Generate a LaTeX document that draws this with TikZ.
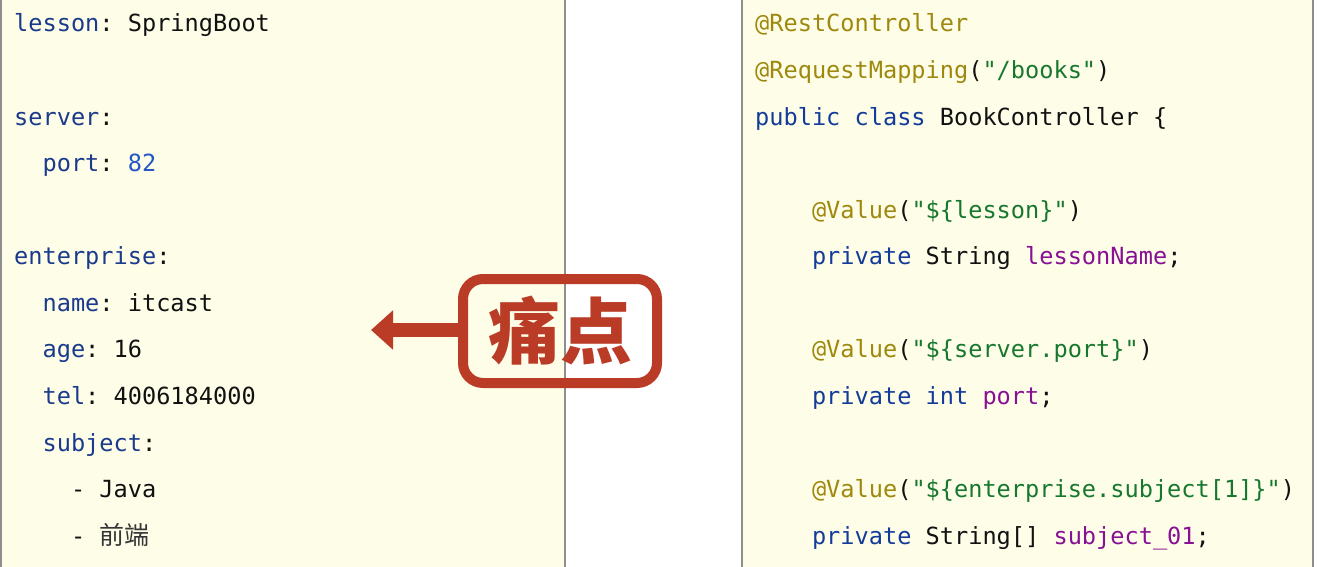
\documentclass[tikz,border=0pt]{standalone}
\usepackage{fontspec}
\usetikzlibrary{arrows.meta}
\newfontfamily\mono{DejaVu Sans Mono}
\newfontfamily\cjk{Noto Sans CJK SC}
\definecolor{panelbg}{HTML}{FEFDE8}
\definecolor{panelline}{HTML}{8E8E8E}
\definecolor{kwc}{HTML}{123B9A}
\definecolor{keyc}{HTML}{1A3A8C}
\definecolor{numc}{HTML}{2457C5}
\definecolor{annc}{HTML}{9E880D}
\definecolor{strc}{HTML}{16782E}
\definecolor{fldc}{HTML}{871094}
\definecolor{plainc}{HTML}{111111}
\definecolor{painred}{HTML}{BA3B26}
\newcommand{\kw}[1]{\textcolor{kwc}{#1}}
\newcommand{\ky}[1]{\textcolor{keyc}{#1}}
\newcommand{\nm}[1]{\textcolor{numc}{#1}}
\newcommand{\an}[1]{\textcolor{annc}{#1}}
\newcommand{\st}[1]{\textcolor{strc}{#1}}
\newcommand{\fl}[1]{\textcolor{fldc}{#1}}
\frenchspacing
\begin{document}
\begin{tikzpicture}[x=1pt,y=-1pt,
  code/.style={anchor=base west,inner sep=0pt,text=plainc,font=\mono\fontsize{23.6}{28}\selectfont\frenchspacing},
  panel/.style={fill=panelbg,draw=none},
  edge/.style={draw=panelline,line width=1.5pt},
  painbox/.style={draw=painred,line width=10pt,rounded corners=20pt,minimum width=194pt,minimum height=104pt,inner sep=0pt,text=painred,font=\cjk\bfseries\fontsize{72}{72}\selectfont},
  painarrow/.style={draw=painred,line width=14pt,-{Triangle[width=38pt,length=22pt]}}
]
\useasboundingbox (0,0) rectangle (1323,567);
\fill[white] (0,0) rectangle (1323,567);
% panels
\path[panel] (0,0) rectangle (565,567);
\path[panel] (742,0) rectangle (1313,567);
\draw[edge] (1,0) -- (1,567);
\draw[edge] (565,0) -- (565,567);
\draw[edge] (742,0) -- (742,567);
\draw[edge] (1313,0) -- (1313,567);
% left yaml
\node[code] (l0) at (14,32) {\ky{lesson}: SpringBoot};
\node[code] (l2) at (14,125.1) {\ky{server}:};
\node[code] (l3) at (14,171.7) {\ \ \ky{port}: \nm{82}};
\node[code] (l5) at (14,264.8) {\ky{enterprise}:};
\node[code] (l6) at (14,311.3) {\ \ \ky{name}: itcast};
\node[code] (l7) at (14,357.9) {\ \ \ky{age}: 16};
\node[code] (l8) at (14,404.4) {\ \ \ky{tel}: 4006184000};
\node[code] (l9) at (14,451.0) {\ \ \ky{subject}:};
\node[code] (l10) at (14,497.5) {\ \ \ \ - Java};
\node[code] (l11) at (14,544.1) {\ \ \ \ - \textcolor{plainc!85}{\cjk\fontsize{25}{26}\selectfont 前端}};
% right java
\node[code] (r0) at (755,32) {\an{@RestController}};
\node[code] (r1) at (755,78.6) {\an{@RequestMapping}(\st{"/books"})};
\node[code] (r2) at (755,125.1) {\kw{public} \kw{class} BookController \{};
\node[code] (r4) at (755,218.2) {\ \ \ \ \an{@Value}(\st{"\$\{lesson\}"})};
\node[code] (r5) at (755,264.8) {\ \ \ \ \kw{private} String \fl{lessonName};};
\node[code] (r7) at (755,357.9) {\ \ \ \ \an{@Value}(\st{"\$\{server.port\}"})};
\node[code] (r8) at (755,404.4) {\ \ \ \ \kw{private} \kw{int} \fl{port};};
\node[code] (r10) at (755,497.5) {\ \ \ \ \an{@Value}(\st{"\$\{enterprise.subject[1]\}"})};
\node[code] (r11) at (755,544.1) {\ \ \ \ \kw{private} String[] \fl{subject\_01};};
% callout
\node[painbox] (pain) at (560,331) {痛点};
\coordinate (tip) at (371,330);
\draw[painarrow] (pain.west |- tip) -- (tip);
\end{tikzpicture}
\end{document}
